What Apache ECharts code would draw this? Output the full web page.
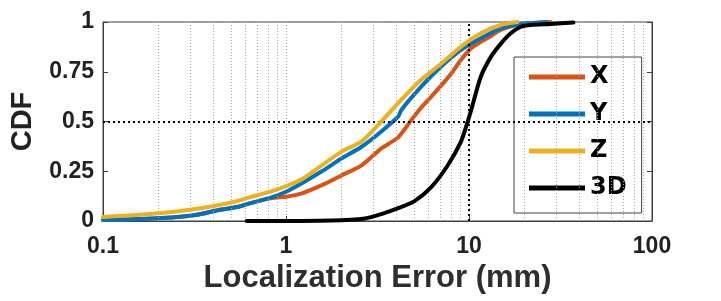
<!DOCTYPE html>
<html>
<head>
<meta charset="utf-8">
<script src="https://cdn.jsdelivr.net/npm/echarts@6/dist/echarts.min.js"></script>
<style>
html,body{margin:0;padding:0;background:#fff;}
#c{width:721px;height:301px;}
</style>
</head>
<body>
<div id="c"></div>
<script>
// ---- data ----
var seriesNames = ['X', 'Y', 'Z', '3D'];
var xTickLabels = ['0.1', '1', '10', '100'];
var yTickLabels = ['0', '0.25', '0.5', '0.75', '1'];

var errX = [0.1, 0.21, 0.32, 0.43, 0.54, 0.64, 0.84, 1.0, 1.22, 1.57, 2.02, 2.59, 3.32, 4.10, 4.84, 5.48, 6.22, 7.04, 7.98, 9.05, 10.26, 11.6, 13.2, 14.9, 19.2, 27.9];
var cdfX = [0.005, 0.015, 0.03, 0.055, 0.07, 0.09, 0.115, 0.122, 0.139, 0.18, 0.23, 0.28, 0.365, 0.42, 0.507, 0.57, 0.625, 0.68, 0.74, 0.81, 0.868, 0.90, 0.93, 0.96, 0.99, 1.0];

var errY = [0.1, 0.21, 0.32, 0.43, 0.54, 0.64, 0.84, 1.0, 1.22, 1.57, 2.02, 2.59, 3.32, 4.10, 4.27, 5.48, 7.04, 9.05, 11.6, 14.9, 19.2, 24.6, 26.5];
var cdfY = [0.005, 0.015, 0.03, 0.055, 0.07, 0.09, 0.12, 0.147, 0.19, 0.25, 0.315, 0.373, 0.45, 0.524, 0.558, 0.675, 0.776, 0.86, 0.918, 0.968, 0.99, 0.997, 1.0];

var errZ = [0.1, 0.21, 0.32, 0.43, 0.54, 0.64, 0.84, 1.0, 1.22, 1.57, 2.02, 2.59, 3.32, 4.27, 5.48, 7.04, 9.05, 11.6, 14.9, 18.4];
var cdfZ = [0.02, 0.04, 0.06, 0.08, 0.10, 0.12, 0.15, 0.175, 0.21, 0.28, 0.35, 0.40, 0.50, 0.61, 0.71, 0.79, 0.876, 0.943, 0.985, 1.0];

var err3D = [0.61, 1.78, 2.70, 3.32, 4.10, 5.04, 6.22, 7.66, 9.05, 9.84, 10.26, 11.6, 13.2, 14.9, 16.9, 19.2, 21.7, 27.9, 37.2];
var cdf3D = [0.0, 0.003, 0.013, 0.035, 0.065, 0.10, 0.17, 0.28, 0.40, 0.50, 0.555, 0.725, 0.826, 0.89, 0.943, 0.976, 0.985, 0.99, 0.997];

var minorGridX = [0.2, 0.3, 0.4, 0.5, 0.6, 0.7, 0.8, 0.9, 2, 3, 4, 5, 6, 7, 8, 9, 20, 30, 40, 50, 60, 70, 80, 90];
var refX = 10;
var refY = 0.5;

var colors = ['#D95319', '#0072BD', '#EDB120', '#000000'];

function pairs(xs, ys) { return xs.map(function (x, i) { return [x, ys[i]]; }); }

var chart = echarts.init(document.getElementById('c'), null, {renderer: 'canvas'});

var tickFont = {fontFamily: 'Liberation Sans, Arial, sans-serif', fontWeight: 'bold', fontSize: 23, color: '#222'};

function lineSeries(i, xs, ys) {
  return {name: seriesNames[i], type: 'line', data: pairs(xs, ys), showSymbol: false, symbol: 'none',
    smooth: 0.25, z: 3 + i,
    lineStyle: {color: colors[i], width: 4, join: 'round', cap: 'round'}, itemStyle: {color: colors[i]}};
}

var option = {
  animation: false,
  backgroundColor: '#fff',
  grid: {left: 100, right: 69, top: 22, bottom: 80, show: true, borderColor: '#404040', borderWidth: 1, backgroundColor: 'transparent'},
  xAxis: {
    type: 'log', logBase: 10, min: 0.1, max: 100,
    name: 'Localization Error (mm)', nameLocation: 'middle', nameGap: 32,
    nameTextStyle: {fontFamily: 'Liberation Sans, Arial, sans-serif', fontWeight: 'bold', fontSize: 31, color: '#2e2e2e'},
    axisLine: {show: true, lineStyle: {color: '#404040', width: 1}},
    axisTick: {show: true, inside: true, length: 5, lineStyle: {color: '#404040'}},
    axisLabel: Object.assign({margin: 14, formatter: function (v) {
      var idx = Math.round(Math.log10(v)) + 1; return xTickLabels[idx] !== undefined ? xTickLabels[idx] : String(v);
    }}, tickFont),
    splitLine: {show: true, lineStyle: {color: '#aaaaaa', width: 1, type: [1, 2]}},
    minorTick: {show: false}, minorSplitLine: {show: false}
  },
  yAxis: [{
    type: 'value', min: 0, max: 1, interval: 0.25,
    name: 'CDF', nameLocation: 'middle', nameGap: 66, nameRotate: 90,
    nameTextStyle: {fontFamily: 'Liberation Sans, Arial, sans-serif', fontWeight: 'bold', fontSize: 29, color: '#222'},
    axisLine: {show: true, lineStyle: {color: '#404040', width: 1}},
    axisTick: {show: true, inside: true, length: 5, lineStyle: {color: '#404040'}},
    axisLabel: Object.assign({margin: 9, formatter: function (v) {
      var idx = Math.round(v / 0.25); return yTickLabels[idx];
    }}, tickFont),
    splitLine: {show: false}
  }, {
    type: 'value', min: 0, max: 1, interval: 0.25, position: 'right',
    axisLine: {show: true, lineStyle: {color: '#404040', width: 1}},
    axisTick: {show: true, inside: true, length: 5, lineStyle: {color: '#404040'}},
    axisLabel: {show: false}, splitLine: {show: false}
  }],
  legend: {
    show: true, orient: 'vertical', left: 514, top: 57,
    data: seriesNames, icon: 'rect', itemWidth: 56, itemHeight: 5, itemGap: 9,
    padding: [6, 15, 11, 15],
    backgroundColor: '#fff', borderColor: '#444', borderWidth: 1, borderRadius: 0,
    textStyle: {fontFamily: 'DejaVu Sans, sans-serif', fontWeight: 'bold', fontSize: 24, color: '#000', lineHeight: 28},
    selectedMode: false
  },
  series: [
    {
      name: 'grid', type: 'line', data: [], z: 1, silent: true,
      markLine: {
        silent: true, symbol: ['none', 'none'], label: {show: false}, animation: false,
        data: minorGridX.map(function (v) { return {xAxis: v, lineStyle: {color: '#aaaaaa', width: 1, type: [1, 2]}}; })
          .concat([
            {xAxis: refX, lineStyle: {color: '#000', width: 2, type: [2, 3]}},
            {yAxis: refY, lineStyle: {color: '#000', width: 2, type: [2, 3]}}
          ])
      }
    },
    lineSeries(0, errX, cdfX),
    lineSeries(1, errY, cdfY),
    lineSeries(2, errZ, cdfZ),
    lineSeries(3, err3D, cdf3D)
  ]
};
chart.setOption(option);
</script>
</body>
</html>
